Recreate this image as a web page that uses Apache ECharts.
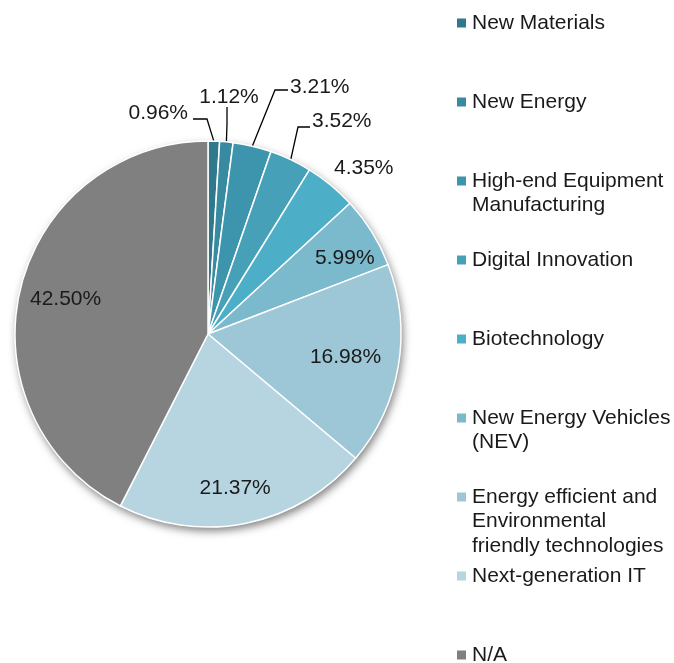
<!DOCTYPE html>
<html>
<head>
<meta charset="utf-8">
<script src="https://cdn.jsdelivr.net/npm/echarts@6/dist/echarts.min.js"></script>
<style>
  html, body { margin: 0; padding: 0; background: #ffffff; }
  #chart { width: 674px; height: 663px; }
</style>
</head>
<body>
<div id="chart"></div>
<script>
// Sector names (line breaks as wrapped in the legend)
const categories = [
  'New Materials',
  'New Energy',
  'High-end Equipment\nManufacturing',
  'Digital Innovation',
  'Biotechnology',
  'New Energy Vehicles\n(NEV)',
  'Energy efficient and\nEnvironmental\nfriendly technologies',
  'Next-generation IT',
  'N/A'
];
// Share of each sector, in percent
const shares = [0.96, 1.12, 3.21, 3.52, 4.35, 5.99, 16.98, 21.37, 42.50];
// Slice colours, dark teal to light blue, grey for N/A
const colors = ['#30788b', '#378a9f', '#3d95ad', '#46a0b8', '#4cafc7', '#7bb9cd', '#9dc7d7', '#b7d5e0', '#808080'];

const CX = 208, CY = 334, R = 193;
const FONT = '"Liberation Sans", Arial, Helvetica, sans-serif';
const TEXT = '#1a1a1a';
const FONT_SIZE = 21;
const LINE_H = 24.5;

// Small slices get callout labels above the pie; the rest are printed on the slice
const outsideCount = 5;
const callouts = {
  0: { x: 188, y: 113, align: 'right', elbow: [207, 119], end: [193, 119] },
  1: { x: 229, y: 97, align: 'center', elbow: [227, 124], end: [227, 107] },
  2: { x: 290, y: 87, align: 'left', elbow: [275, 90], end: [288, 90] },
  3: { x: 312, y: 121, align: 'left', elbow: [298, 127], end: [310, 127] },
  4: { x: 334, y: 168, align: 'left' }
};
// Small nudges for the on-slice labels
const innerNudge = {
  5: [8, 4],
  6: [-12, -2],
  7: [-3, 6],
  8: [5, 1]
};

const fmtPct = v => v.toFixed(2) + '%';

const mainData = categories.map((name, i) => ({
  name,
  value: shares[i],
  itemStyle: { color: colors[i] },
  label: { show: i < outsideCount },
  labelLine: { show: i < outsideCount - 1 }
}));

const innerLabelData = categories.map((name, i) => ({
  name,
  value: shares[i],
  label: { show: i >= outsideCount }
}));

// One legend block per sector; blank lines above the name keep the
// marker level with the first text line of wrapped names
const legendCenters = categories.map((_, i) => 23 + i * 79);
const legends = categories.map((name, i) => {
  const lines = name.split('\n').length;
  return {
    orient: 'vertical',
    left: 455,
    top: legendCenters[i] - (2 * lines - 1) * LINE_H / 2,
    padding: 0,
    itemWidth: 11,
    itemHeight: 11,
    icon: 'rect',
    selectedMode: false,
    data: [name],
    formatter: n => '\n'.repeat(lines - 1) + n,
    textStyle: {
      fontFamily: FONT,
      fontSize: FONT_SIZE,
      color: TEXT,
      lineHeight: LINE_H
    }
  };
});

const chart = echarts.init(document.getElementById('chart'), null, { renderer: 'canvas' });
chart.setOption({
  animation: false,
  backgroundColor: '#ffffff',
  legend: legends,
  series: [
    {
      // soft drop shadow under the whole pie
      type: 'pie',
      silent: true,
      center: [CX, CY],
      radius: [0, R],
      z: 1,
      label: { show: false },
      labelLine: { show: false },
      itemStyle: {
        color: '#ffffff',
        shadowBlur: 8,
        shadowOffsetX: 2,
        shadowOffsetY: 4,
        shadowColor: 'rgba(0,0,0,0.5)'
      },
      data: [{ value: 1, name: '' }]
    },
    {
      type: 'pie',
      center: [CX, CY],
      radius: [0, R],
      startAngle: 90,
      clockwise: true,
      z: 2,
      avoidLabelOverlap: false,
      itemStyle: { borderColor: '#ffffff', borderWidth: 1.5 },
      label: {
        position: 'outside',
        formatter: p => fmtPct(p.value),
        fontFamily: FONT,
        fontSize: FONT_SIZE,
        color: TEXT
      },
      labelLine: {
        length: 15,
        length2: 10,
        lineStyle: { color: '#000000', width: 1.3 }
      },
      labelLayout: params => {
        const spot = callouts[params.dataIndex];
        if (!spot) return;
        const out = { x: spot.x, y: spot.y, align: spot.align, verticalAlign: 'middle' };
        if (spot.elbow && params.labelLinePoints) {
          out.labelLinePoints = [params.labelLinePoints[0], spot.elbow, spot.end];
        }
        return out;
      },
      data: mainData
    },
    {
      // transparent ring that carries the on-slice percentage labels
      type: 'pie',
      silent: true,
      center: [CX, CY],
      radius: [R * 0.54, R],
      startAngle: 90,
      clockwise: true,
      z: 3,
      avoidLabelOverlap: false,
      itemStyle: { color: 'rgba(0,0,0,0)', borderWidth: 0 },
      label: {
        position: 'inside',
        formatter: p => fmtPct(p.value),
        fontFamily: FONT,
        fontSize: FONT_SIZE,
        color: TEXT
      },
      labelLine: { show: false },
      labelLayout: params => {
        const d = innerNudge[params.dataIndex];
        return d ? { dx: d[0], dy: d[1] } : undefined;
      },
      data: innerLabelData
    }
  ]
});
</script>
</body>
</html>
